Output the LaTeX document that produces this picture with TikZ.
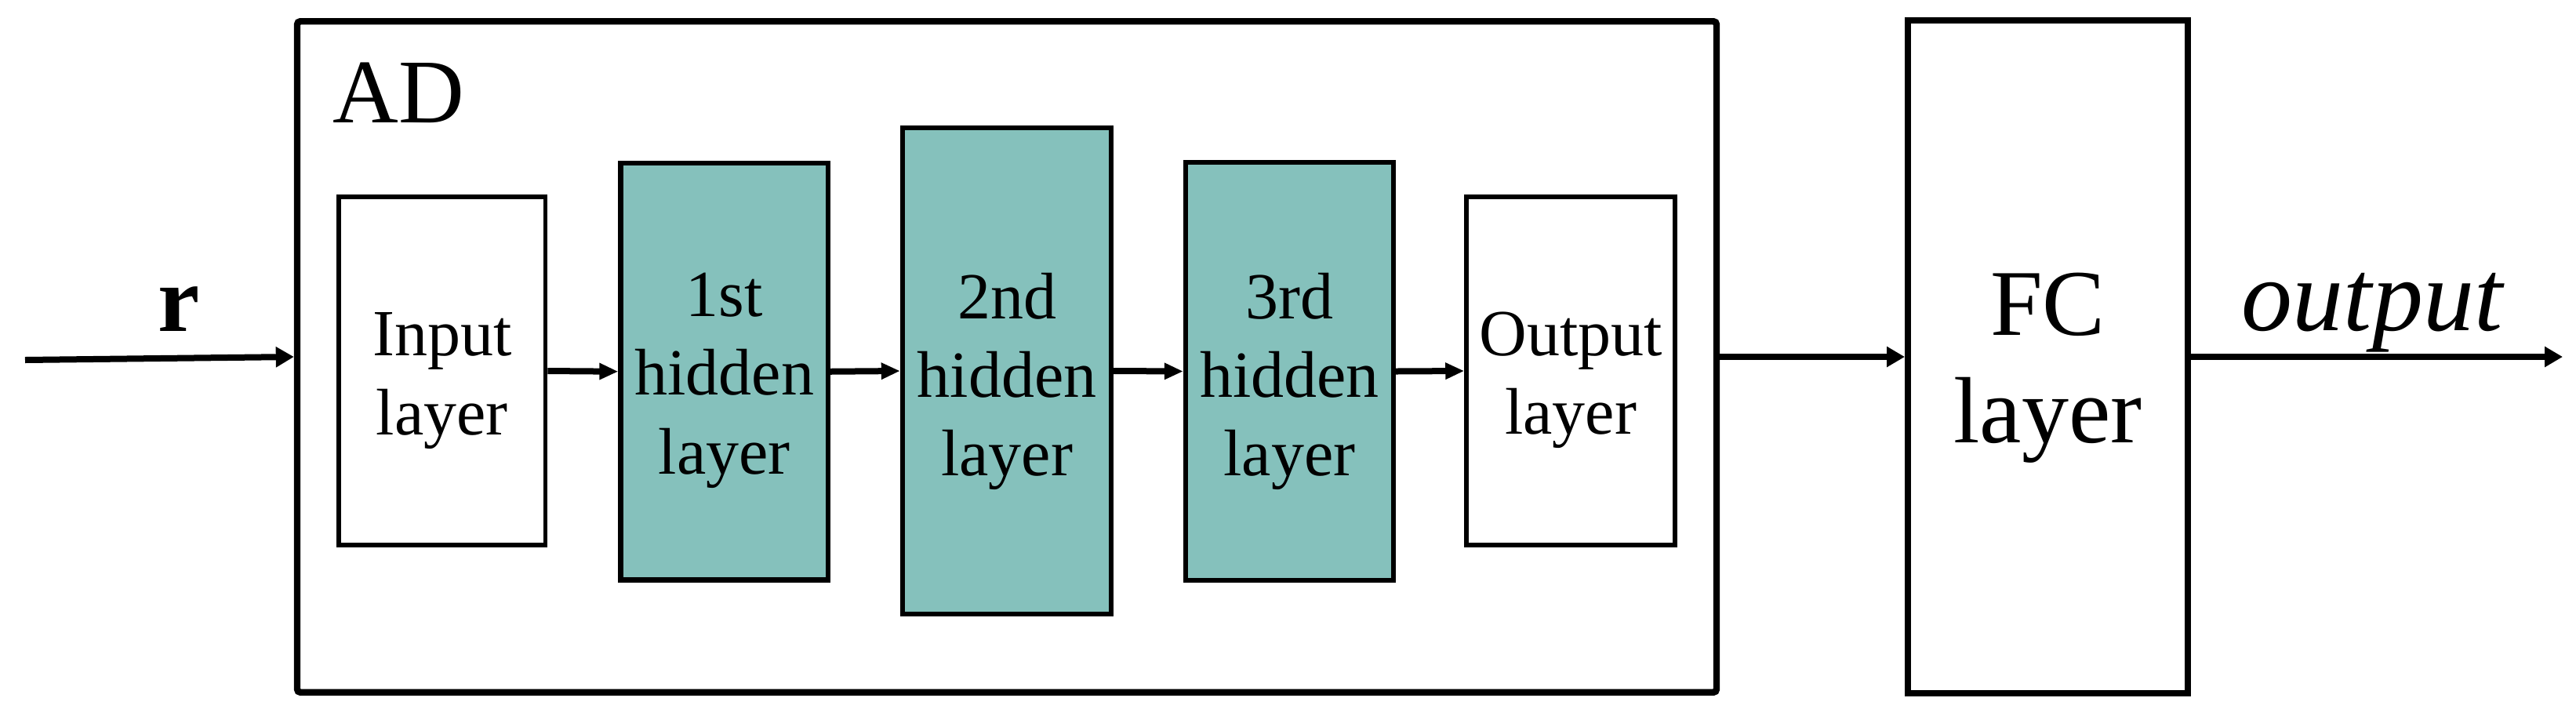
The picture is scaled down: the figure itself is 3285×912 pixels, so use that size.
\documentclass[tikz,border=0pt]{standalone}
\usepackage{fontspec}
\setmainfont{Liberation Serif}
\usetikzlibrary{arrows.meta}
\definecolor{tealfill}{RGB}{133,193,188}
\begin{document}
\begin{tikzpicture}[x=0.25pt,y=-0.25pt,
  adbox/.style={draw, line width=2.1pt, rounded corners=1pt, inner sep=0pt,
    minimum width=452.5pt, minimum height=213.9pt},
  fcbox/.style={draw, line width=2pt, inner sep=0pt,
    minimum width=89.25pt, minimum height=214.5pt},
  layerbox/.style={draw, line width=1.4pt, fill=white, inner sep=0pt},
  hidbox/.style={draw, line width=1.6pt, fill=tealfill, inner sep=0pt},
  conn/.style={line width=2pt, -{Triangle[length=6pt,width=5pt]}},
  bigconn/.style={line width=2pt, -{Triangle[length=5.75pt,width=6.25pt]}},
  laytext/.style={font=\fontsize{21}{25.1}\selectfont, align=center, inner sep=0pt, anchor=north},
  fctext/.style={font=\fontsize{30}{34.25}\selectfont, align=center, inner sep=0pt, anchor=north}
]
\useasboundingbox (0,0) rectangle (3285,912);

% boxes
\node[adbox] (AD) at (1284,455) {};
\node[fcbox] (FC) at (2611.5,455) {};
\node[layerbox, minimum width=65.9pt, minimum height=111pt] (inp) at (563.75,473) {};
\node[hidbox, minimum width=66.1pt, minimum height=132.9pt] (h1) at (923.75,473.75) {};
\node[hidbox, minimum width=66.5pt, minimum height=155pt] (h2) at (1284,473) {};
\node[hidbox, minimum width=66.25pt, minimum height=133.25pt] (h3) at (1644.5,473.5) {};
\node[layerbox, minimum width=66.5pt, minimum height=111pt] (outl) at (2003,473) {};

% texts
\node[laytext] (tinp) at (563.75,398) {Input\\layer};
\node[laytext] (th1) at (923.75,347) {1st\\hidden\\layer};
\node[laytext] (th2) at (1284,347) {2nd\\hidden\\layer};
\node[laytext] (th3) at (1644.5,347) {3rd\\hidden\\layer};
\node[laytext] (toutl) at (2003,397) {Output\\layer};
\node[fctext] (tfc) at (2611.5,347) {FC\\layer};
\node[anchor=base west, font=\fontsize{29}{34}\selectfont, inner sep=0pt] (tad) at (424,156) {AD};
\node[anchor=base, font=\fontsize{30}{36}\selectfont\bfseries, inner sep=0pt] (tr) at (228,422) {r};
\node[anchor=base, font=\fontsize{32.5}{38}\selectfont\itshape, inner sep=0pt] (tout) at (3025,421) {output};

% connectors
\coordinate (rs) at (32,459);
\coordinate (oe) at (3268,455);
\draw[bigconn] (rs) -- (AD.west);
\draw[conn] (inp.east) -- (h1.west);
\draw[conn] (h1.east) -- (h2.west);
\draw[conn] (h2.east) -- (h3.west);
\draw[conn] (h3.east) -- (outl.west);
\draw[bigconn] (AD.east) -- (FC.west);
\draw[bigconn] (FC.east) -- (oe);
\end{tikzpicture}
\end{document}
